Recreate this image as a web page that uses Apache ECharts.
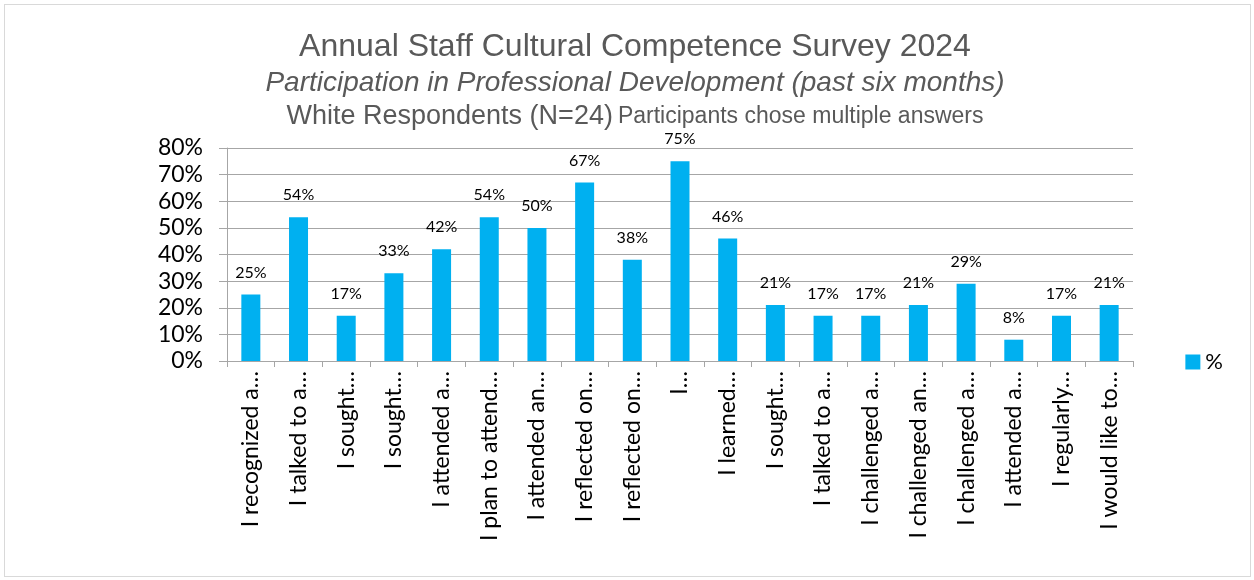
<!DOCTYPE html>
<html>
<head>
<meta charset="utf-8">
<script src="https://cdn.jsdelivr.net/npm/echarts@6/dist/echarts.min.js"></script>
<style>
  html, body { margin: 0; padding: 0; background: #fff; }
  #frame { position: absolute; left: 4px; top: 4px; width: 1247px; height: 573px; border: 1px solid #d9d9d9; box-sizing: border-box; }
  #chart { position: absolute; left: 0; top: 0; width: 1254px; height: 580px; }
</style>
</head>
<body>
<div id="frame"></div>
<div id="chart"></div>
<script>
// Survey responses (share of respondents choosing each statement)
const categories = [
  'I recognized a…', 'I talked to a…', 'I sought…', 'I sought…', 'I attended a…',
  'I plan to attend…', 'I attended an…', 'I reflected on…', 'I reflected on…', 'I…',
  'I learned…', 'I sought…', 'I talked to a…', 'I challenged a…', 'I challenged an…',
  'I challenged a…', 'I attended a…', 'I regularly…', 'I would like to…'
];
const percentValues = [25, 54, 17, 33, 42, 54, 50, 67, 38, 75, 46, 21, 17, 17, 21, 29, 8, 17, 21];
const yTicks = [0, 10, 20, 30, 40, 50, 60, 70, 80];
const seriesName = '%';

const chart = echarts.init(document.getElementById('chart'), null, { renderer: 'canvas' });
const labelFont = 'Lato, "Open Sans", sans-serif';
const titleFont = '"Liberation Sans", Arial, sans-serif';

chart.setOption({
  animation: false,
  backgroundColor: 'transparent',
  title: [
    { text: 'Annual Staff Cultural Competence Survey 2024', left: 630, top: 26, textAlign: 'center',
      textStyle: { fontFamily: titleFont, fontSize: 32, fontWeight: 'normal', color: '#595959' } },
    { text: 'Participation in Professional Development (past six months)', left: 630, top: 64, textAlign: 'center',
      textStyle: { fontFamily: titleFont, fontSize: 28, fontStyle: 'italic', fontWeight: 'normal', color: '#595959' } },
    { text: '{a|White Respondents (N=24)} {b|Participants chose multiple answers}', left: 630, top: 98, textAlign: 'center',
      textStyle: { fontWeight: 'normal', rich: {
        a: { fontFamily: titleFont, fontSize: 27, fontWeight: 'normal', color: '#595959' },
        b: { fontFamily: titleFont, fontSize: 23, fontWeight: 'normal', color: '#595959' }
      } } }
  ],
  legend: {
    right: 26, top: 346, itemWidth: 15, itemHeight: 15, itemGap: 8,
    icon: 'rect',
    textStyle: { fontFamily: labelFont, fontSize: 22, color: '#000' },
    data: [seriesName]
  },
  grid: { left: 227, top: 148, width: 906, height: 213, containLabel: false },
  xAxis: {
    type: 'category', data: categories,
    axisLine: { show: true, lineStyle: { color: '#a6a6a6', width: 1 } },
    axisTick: { show: true, alignWithLabel: false, length: 6, lineStyle: { color: '#a6a6a6' } },
    axisLabel: { rotate: 90, interval: 0, margin: 10, fontFamily: labelFont, fontSize: 23, color: '#000' }
  },
  yAxis: {
    type: 'value', min: 0, max: 80, interval: 10,
    axisLine: { show: true, lineStyle: { color: '#a6a6a6', width: 1 } },
    axisTick: { show: true, length: 8, lineStyle: { color: '#a6a6a6' } },
    splitLine: { show: true, lineStyle: { color: '#a6a6a6', width: 1 } },
    axisLabel: { margin: 24, fontFamily: labelFont, fontSize: 23, color: '#000',
      formatter: v => yTicks.includes(v) ? v + '%' : '' }
  },
  series: [{
    name: seriesName, type: 'bar', data: percentValues, barWidth: 19,
    itemStyle: { color: '#00b0f0' },
    label: { show: true, position: 'top', distance: 14, formatter: p => p.value + '%',
      fontFamily: labelFont, fontSize: 16, color: '#000' }
  }]
});
</script>
</body>
</html>
